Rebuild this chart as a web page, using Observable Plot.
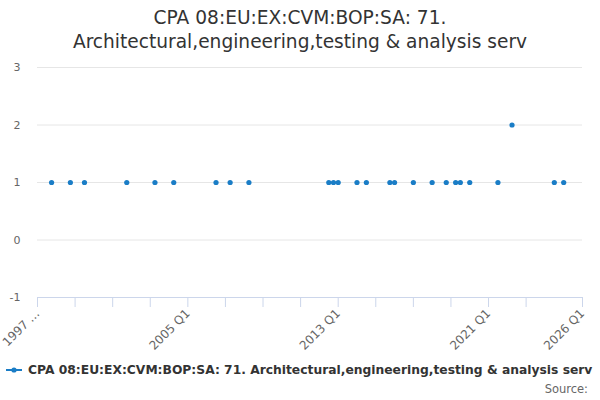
<!DOCTYPE html>
<html>
<head>
<meta charset="utf-8">
<script src="https://cdn.jsdelivr.net/npm/d3@7"></script>
<script src="https://cdn.jsdelivr.net/npm/@observablehq/plot@0.6"></script>
<style>
  body { margin: 0; background: #fff; font-family: "DejaVu Sans", sans-serif; }
  #wrap { position: relative; width: 600px; height: 400px; overflow: hidden; }
  #title { position: absolute; top: 6px; left: 0; width: 600px; text-align: center; font-size: 18.6px; line-height: 24px; color: #333; }
  #chart { position: absolute; top: 54px; left: 0; }
  #legend { position: absolute; top: 363px; left: 6px; font-size: 12.3px; font-weight: bold; color: #333; white-space: nowrap; display: flex; align-items: center; }
  #legend svg { margin-right: 6px; }
  #source { position: absolute; top: 382px; right: 12px; font-size: 11.5px; color: #666; }
</style>
</head>
<body>
<div id="wrap">
  <div id="title">CPA 08:EU:EX:CVM:BOP:SA: 71.<br>Architectural,engineering,testing &amp; analysis serv</div>
  <div id="chart"></div>
  <div id="legend"></div>
  <div id="source">Source:</div>
</div>
<script>
const seriesName = "CPA 08:EU:EX:CVM:BOP:SA: 71. Architectural,engineering,testing & analysis serv";
const quarters = ["1997 Q4","1998 Q4","1999 Q3","2001 Q4","2003 Q2","2004 Q2","2006 Q3","2007 Q2","2008 Q2",
  "2012 Q3","2012 Q4","2013 Q1","2014 Q1","2014 Q3","2015 Q4","2016 Q1","2017 Q1","2018 Q1","2018 Q4",
  "2019 Q2","2019 Q3","2020 Q1","2021 Q3","2022 Q2","2024 Q3","2025 Q1"];
const values = [1,1,1,1,1,1,1,1,1,
  1,1,1,1,1,1,1,1,1,1,
  1,1,1,1,2,1,1];
const xLabelQuarters = ["1997 Q1","2005 Q1","2013 Q1","2021 Q1","2026 Q1"];
const xLabelTexts = ["1997 …","2005 Q1","2013 Q1","2021 Q1","2026 Q1"];
const xMinorTickQuarters = ["1997 Q1","1999 Q1","2001 Q1","2003 Q1","2005 Q1","2007 Q1","2009 Q1","2011 Q1",
  "2013 Q1","2015 Q1","2017 Q1","2019 Q1","2021 Q1","2023 Q1","2026 Q1"];
const yTicks = [-1, 0, 1, 2, 3];

const color = "#1a7dc6";
const qToNum = s => { const [y, q] = s.split(" Q"); return +y + (+q - 1) / 4; };
const data = quarters.map((q, i) => ({x: qToNum(q), y: values[i]}));
const labelPos = xLabelQuarters.map(qToNum);
const labelMap = new Map(labelPos.map((p, i) => [p, xLabelTexts[i]]));
const minorPos = xMinorTickQuarters.map(qToNum);

const chart = Plot.plot({
  width: 600,
  height: 306,
  marginLeft: 37,
  marginRight: 18,
  marginTop: 13,
  marginBottom: 63,
  style: {fontFamily: "DejaVu Sans, sans-serif", fontSize: "11px", color: "#666", background: "transparent", overflow: "visible"},
  x: {domain: [labelPos[0], labelPos[labelPos.length - 1]]},
  y: {domain: [-1, 3]},
  marks: [
    Plot.gridY(yTicks.filter(d => d > -1), {stroke: "#e6e6e6", strokeOpacity: 1}),
    Plot.ruleY([-1], {stroke: "#ccd6eb"}),
    Plot.axisY(yTicks, {tickSize: 0, tickPadding: 17, fill: "#666", label: null, tickFormat: d => String(d)}),
    Plot.axisX(minorPos, {tickSize: 10, stroke: "#ccd6eb", strokeOpacity: 1, text: null, label: null}),
    Plot.axisX(labelPos, {tickSize: 0, tickPadding: 14, tickRotate: -45, fill: "#666", fontSize: 12, label: null, tickFormat: d => labelMap.get(d)}),
    Plot.dot(data, {x: "x", y: "y", r: 2.6, fill: color, stroke: "none"})
  ]
});
document.getElementById("chart").appendChild(chart);

const legend = document.getElementById("legend");
legend.innerHTML = `<svg width="16" height="10"><line x1="0" x2="16" y1="5" y2="5" stroke="${color}" stroke-width="2"/><circle cx="8" cy="5" r="2.6" fill="${color}"/></svg><span></span>`;
legend.querySelector("span").textContent = seriesName;
</script>
</body>
</html>
